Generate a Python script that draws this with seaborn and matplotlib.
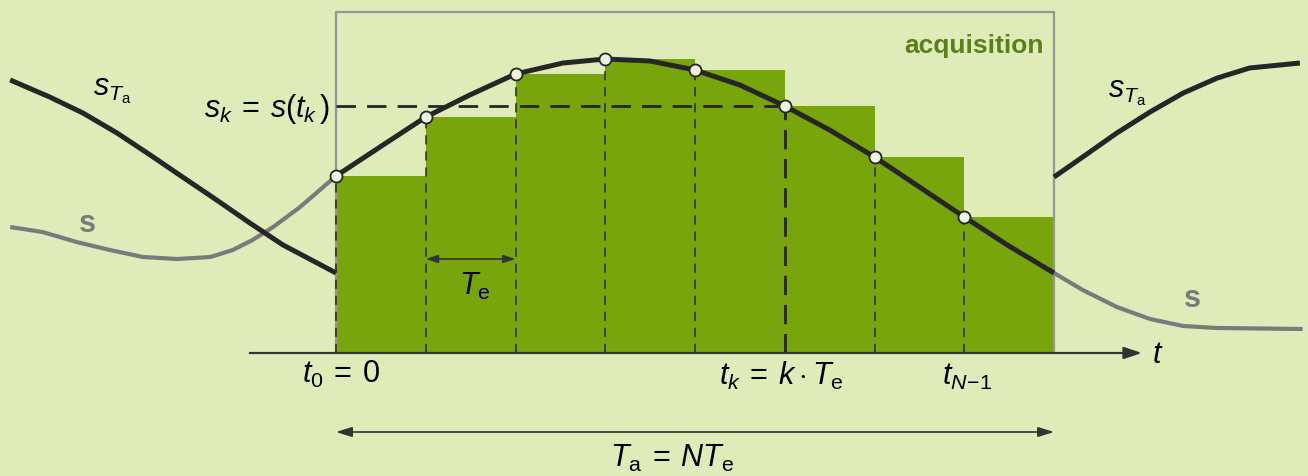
import numpy as np
import pandas as pd
import seaborn as sns
import matplotlib.pyplot as plt

# time in units of T_e, amplitude in arbitrary units (axis baseline = 0)
win_t = [0, 0.49, 1, 1.49, 2, 2.53, 3, 3.5, 4, 4.5, 5, 5.5, 6, 6.5, 7, 7.48, 8]
win_s = [1.77, 2.06, 2.36, 2.58, 2.79, 2.90, 2.94, 2.92, 2.83, 2.68, 2.47, 2.23, 1.96, 1.66, 1.36, 1.08, 0.80]

left_t = [-3.63, -3.27, -2.89, -2.52, -2.15, -1.77, -1.40, -1.15, -0.93, -0.70, -0.40, 0]
left_s = [1.26, 1.21, 1.11, 1.03, 0.96, 0.94, 0.96, 1.03, 1.13, 1.26, 1.46, 1.77]
right_t = [8, 8.32, 8.70, 9.07, 9.44, 9.82, 10.77]
right_s = [0.80, 0.63, 0.46, 0.34, 0.27, 0.25, 0.24]

# periodic extension s_Ta outside the window
ta_left_t = [-3.63, -3.19, -2.82, -2.44, -2.07, -1.71, -1.33, -0.96, -0.59, -0.21, 0]
ta_left_s = [2.73, 2.56, 2.40, 2.20, 1.98, 1.76, 1.53, 1.30, 1.08, 0.90, 0.80]
ta_right_t = [8, 8.32, 8.70, 9.07, 9.44, 9.82, 10.18, 10.74]
ta_right_s = [1.76, 1.96, 2.20, 2.41, 2.60, 2.75, 2.85, 2.90]

k = [0, 1, 2, 3, 4, 5, 6, 7]
s_k = [1.77, 2.36, 2.79, 2.94, 2.83, 2.47, 1.96, 1.36]
N = 8
k_mark = 5

bg = '#dfecba'
green = '#78a50c'
dark = '#262626'
grey = '#7a7a7a'

sns.set_theme(style='white')
plt.rcParams['font.family'] = ['Liberation Sans', 'DejaVu Sans']
plt.rcParams['text.color'] = 'black'
plt.rcParams['mathtext.fontset'] = 'custom'
plt.rcParams['mathtext.rm'] = 'Liberation Sans'
plt.rcParams['mathtext.it'] = 'Liberation Sans:italic'
plt.rcParams['mathtext.bf'] = 'Liberation Sans:bold'

fig = plt.figure(figsize=(13.08, 4.76), dpi=100, facecolor=bg)
ax = fig.add_axes([0, 0, 1, 1])
ax.set_facecolor(bg)
ax.set_xlim(-336 / 89.75, (1308 - 336) / 89.75)
ax.set_ylim(-1.23, 3.53)
ax.axis('off')

# sample-and-hold bars
ax.bar(k, s_k, width=1, align='edge', color=green, edgecolor='none', linewidth=0, zorder=1)

# acquisition window
ax.plot([0, 0, N, N], [0, 3.41, 3.41, 0], color='#959595', lw=1.6, zorder=2)

# dashed sample lines
for i, v in zip(k, s_k):
    if i == k_mark:
        ax.plot([i, i], [0, v], color=dark, lw=2, dashes=(7, 3.5), zorder=3)
    else:
        ax.plot([i, i], [0, v], color=dark, lw=1.1, dashes=(6, 4.5), zorder=3)
ax.plot([0, k_mark], [s_k[k_mark]] * 2, color=dark, lw=2, dashes=(7, 4), zorder=3)

# signal curves
line_kw = dict(ax=ax, sort=False, solid_joinstyle='round', solid_capstyle='butt')
sns.lineplot(x=left_t, y=left_s, color=grey, lw=3, zorder=4, **line_kw)
sns.lineplot(x=right_t, y=right_s, color=grey, lw=3, zorder=4, **line_kw)
sns.lineplot(x=ta_left_t, y=ta_left_s, color=dark, lw=3.6, zorder=5, **line_kw)
sns.lineplot(x=ta_right_t, y=ta_right_s, color=dark, lw=3.6, zorder=5, **line_kw)
sns.lineplot(x=win_t, y=win_s, color=dark, lw=3.6, zorder=5, **line_kw)

samples = pd.DataFrame({'t': k, 's': s_k})
sns.scatterplot(data=samples, x='t', y='s', ax=ax, s=75, color='#eef2dc',
                edgecolor=dark, linewidth=1.3, zorder=6)

# time axis
ax.annotate('', xy=(8.98, 0), xytext=(-0.96, 0),
            arrowprops=dict(arrowstyle='-|>,head_length=0.9,head_width=0.3',
                            color='#333333', lw=1.6, shrinkA=0, shrinkB=0), zorder=7)
ax.annotate('', xy=(2, 0.94), xytext=(1, 0.94),
            arrowprops=dict(arrowstyle='<|-|>,head_length=0.6,head_width=0.2',
                            color='#333333', lw=1.2, shrinkA=0, shrinkB=0))
ax.annotate('', xy=(N, -0.79), xytext=(0, -0.79),
            arrowprops=dict(arrowstyle='<|-|>,head_length=0.8,head_width=0.25',
                            color='#333333', lw=1.2, shrinkA=0, shrinkB=0))

fs = 22
ax.text(-2.71, 2.58, r'$s_{T_\mathrm{a}}$', fontsize=fs, va='baseline')
ax.text(8.60, 2.56, r'$s_{T_\mathrm{a}}$', fontsize=fs, va='baseline')
ax.text(-2.87, 1.21, r'$\mathbf{s}$', fontsize=fs, color=grey, va='baseline')
ax.text(9.44, 0.46, r'$\mathbf{s}$', fontsize=fs, color=grey, va='baseline')
ax.text(-0.07, 2.36, r'$s_k\:=\:s(t_k\,)$', fontsize=fs, ha='right', va='baseline')
ax.text(7.89, 3.0, 'acquisition', fontsize=19, fontweight='bold', color='#5c7f1c',
        ha='right', va='baseline')
ax.text(1.55, 0.58, r'$T_\mathrm{e}$', fontsize=fs, ha='center', va='baseline')
ax.text(-0.38, -0.30, r'$t_0\:=\:0$', fontsize=fs, va='baseline')
ax.text(4.27, -0.32, r'$t_k\:=\:k\cdot T_\mathrm{e}$', fontsize=fs, va='baseline')
ax.text(6.75, -0.32, r'$t_{N\!-\!1}$', fontsize=fs, va='baseline')
ax.text(9.09, -0.10, r'$t$', fontsize=fs, va='baseline')
ax.text(3.75, -1.14, r'$T_\mathrm{a}\:=\:NT_\mathrm{e}$', fontsize=fs, ha='center', va='baseline')

fig.savefig('out.png', dpi=100, facecolor=bg)
